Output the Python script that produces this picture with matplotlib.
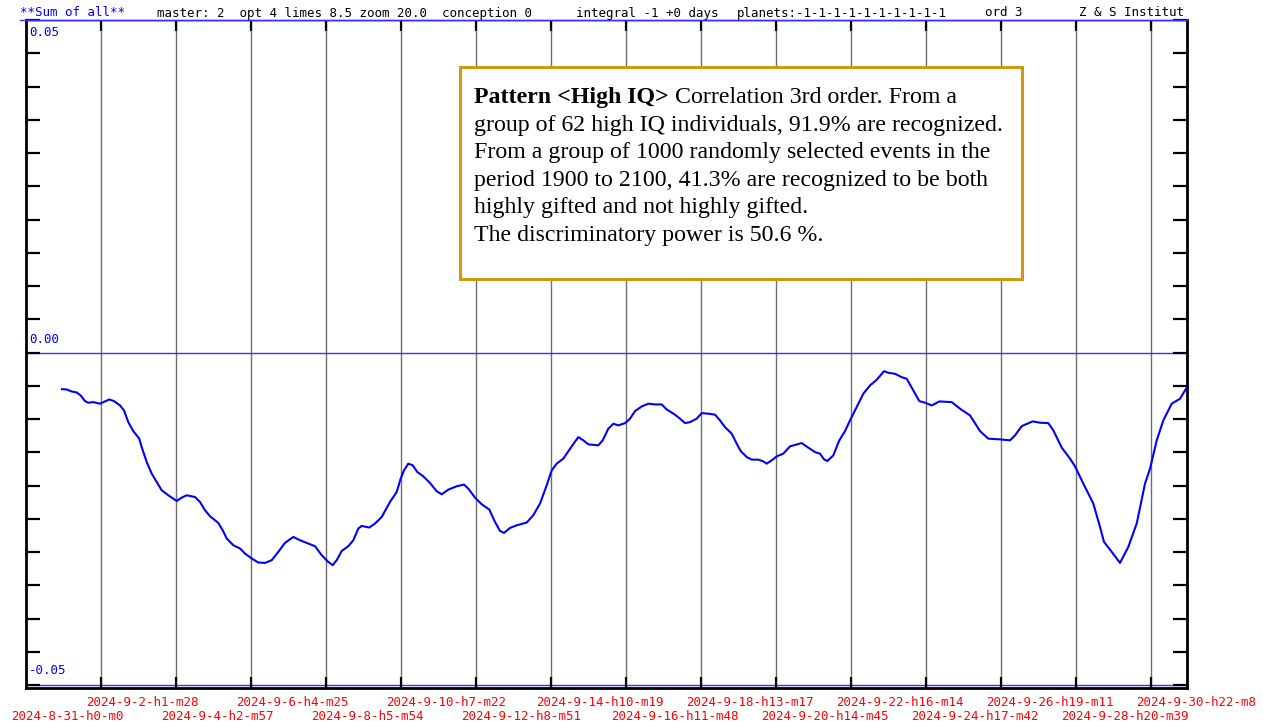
import matplotlib
matplotlib.use('Agg')
import matplotlib.pyplot as plt
from matplotlib.patches import Rectangle
from matplotlib.transforms import blended_transform_factory

W, H = 1263, 722

# x = days since 2024-8-31 h0 m0, y = sum of all
days = [0.990, 1.119, 1.256, 1.394, 1.504, 1.622, 1.712, 1.850, 2.034, 2.171,
        2.290, 2.419, 2.584, 2.694, 2.812, 2.949, 3.114, 3.180, 3.318, 3.455,
        3.593, 3.730, 3.911, 4.142, 4.280, 4.417, 4.645, 4.783, 4.920, 5.058,
        5.286, 5.407, 5.517, 5.698, 5.882, 6.020, 6.204, 6.385, 6.569, 6.754,
        6.935, 7.119, 7.347, 7.531, 7.716, 7.944, 8.128, 8.309, 8.430, 8.540,
        8.678, 8.859, 8.997, 9.134, 9.227, 9.436, 9.593, 9.777, 10.005, 10.189,
        10.299, 10.390, 10.508, 10.629, 10.756, 10.921, 11.105, 11.289, 11.426, 11.608,
        11.838, 12.039, 12.158, 12.342, 12.526, 12.735, 12.891, 13.029, 13.139, 13.304,
        13.488, 13.763, 13.944, 14.128, 14.312, 14.450, 14.588, 14.769, 15.000, 15.181,
        15.319, 15.456, 15.731, 15.852, 16.006, 16.143, 16.281, 16.465, 16.602, 16.740,
        16.924, 17.105, 17.289, 17.474, 17.611, 17.839, 17.976, 18.114, 18.251, 18.435,
        18.573, 18.755, 18.939, 19.076, 19.213, 19.398, 19.535, 19.645, 19.810, 19.948,
        20.129, 20.266, 20.359, 20.497, 20.635, 20.816, 21.000, 21.322, 21.503, 21.687,
        21.825, 21.935, 22.026, 22.190, 22.355, 22.512, 22.649, 22.833, 23.015, 23.199,
        23.383, 23.584, 23.702, 23.886, 24.070, 24.208, 24.390, 24.555, 24.711, 24.896,
        25.104, 25.445, 25.673, 25.948, 26.223, 26.451, 26.772, 27.047, 27.185, 27.369,
        27.671, 27.872, 28.100, 28.238, 28.469, 28.696, 28.834, 29.062, 29.337, 29.521,
        29.631, 29.843, 30.071, 30.299, 30.530, 30.758, 30.896, 31.080, 31.261, 31.492,
        31.720, 31.885]
vals = [-0.00551, -0.00556, -0.00586, -0.00601, -0.00646, -0.00731, -0.00755, -0.00746, -0.00770, -0.00736,
        -0.00706, -0.00731, -0.00796, -0.00871, -0.01047, -0.01182, -0.01296, -0.01422, -0.01647, -0.01821,
        -0.01947, -0.02072, -0.02147, -0.02233, -0.02182, -0.02147, -0.02173, -0.02248, -0.02372, -0.02462,
        -0.02563, -0.02673, -0.02797, -0.02898, -0.02947, -0.03023, -0.03098, -0.03158, -0.03164, -0.03123,
        -0.02998, -0.02863, -0.02773, -0.02823, -0.02863, -0.02913, -0.03048, -0.03149, -0.03198, -0.03123,
        -0.02984, -0.02913, -0.02823, -0.02647, -0.02608, -0.02632, -0.02572, -0.02473, -0.02248, -0.02098,
        -0.01896, -0.01772, -0.01671, -0.01697, -0.01797, -0.01862, -0.01962, -0.02087, -0.02132, -0.02062,
        -0.02012, -0.01986, -0.02047, -0.02182, -0.02282, -0.02362, -0.02548, -0.02683, -0.02713, -0.02638,
        -0.02598, -0.02557, -0.02447, -0.02272, -0.01997, -0.01772, -0.01671, -0.01596, -0.01411, -0.01272,
        -0.01321, -0.01381, -0.01396, -0.01321, -0.01146, -0.01071, -0.01096, -0.01062, -0.00995, -0.00881,
        -0.00811, -0.00770, -0.00781, -0.00781, -0.00856, -0.00935, -0.00995, -0.01062, -0.01047, -0.00995,
        -0.00911, -0.00920, -0.00935, -0.01021, -0.01122, -0.01221, -0.01371, -0.01482, -0.01572, -0.01611,
        -0.01611, -0.01637, -0.01671, -0.01622, -0.01562, -0.01521, -0.01411, -0.01362, -0.01431, -0.01497,
        -0.01521, -0.01607, -0.01632, -0.01547, -0.01321, -0.01182, -0.01021, -0.00821, -0.00620, -0.00495,
        -0.00410, -0.00281, -0.00305, -0.00320, -0.00371, -0.00395, -0.00571, -0.00731, -0.00755, -0.00796,
        -0.00736, -0.00746, -0.00845, -0.00946, -0.01182, -0.01296, -0.01306, -0.01321, -0.01246, -0.01107,
        -0.01036, -0.01056, -0.01062, -0.01171, -0.01431, -0.01596, -0.01712, -0.01971, -0.02272, -0.02623,
        -0.02848, -0.02998, -0.03164, -0.02923, -0.02572, -0.01971, -0.01746, -0.01321, -0.01021, -0.00770,
        -0.00695, -0.00545]

tick_labels = ["2024-8-31-h0-m0", "2024-9-2-h1-m28", "2024-9-4-h2-m57", "2024-9-6-h4-m25",
               "2024-9-8-h5-m54", "2024-9-10-h7-m22", "2024-9-12-h8-m51", "2024-9-14-h10-m19",
               "2024-9-16-h11-m48", "2024-9-18-h13-m17", "2024-9-20-h14-m45", "2024-9-22-h16-m14",
               "2024-9-24-h17-m42", "2024-9-26-h19-m11", "2024-9-28-h20-m39", "2024-9-30-h22-m8"]
step = 742.133 / 15 / 24   # days between labels
y_marks = [0.05, 0.00, -0.05]
y_mark_text = ["0.05", "0.00", "-0.05"]

header = [(20, "**Sum of all**", "#0000ff"),
          (157, "master: 2  opt 4 limes 8.5 zoom 20.0  conception 0", "black"),
          (576, "integral -1 +0 days", "black"),
          (737, "planets:-1-1-1-1-1-1-1-1-1-1", "black"),
          (985, "ord 3", "black"),
          (1079, "Z & S Institut", "black")]

box_lines = ["group of 62 high IQ individuals, 91.9% are recognized.",
             "From a group of 1000 randomly selected events in the",
             "period 1900 to 2100, 41.3% are recognized to be both",
             "highly gifted and not highly gifted.",
             "The discriminatory power is 50.6 %."]

mono = 'DejaVu Sans Mono'
serif = 'Liberation Serif'

fig = plt.figure(figsize=(W / 100, H / 100), dpi=100)
ax = fig.add_axes([26 / W, 1 - 688 / H, (1187 - 26) / W, (688 - 20) / H])
ax.set_xlim(0, 31.912)
ax.set_ylim(-0.05045, 0.04985)

# vertical grid at label steps
xt = [i * step for i in range(1, 16)]
for x in xt:
    ax.axvline(x, color='#6e6e6e', lw=1.0, zorder=1)
ax.set_xticks(xt)
ax.set_xticklabels([])
ax.tick_params(axis='x', direction='in', length=8, width=1.6, top=True, bottom=True, color='black')

ax.set_yticks([i * 0.005 for i in range(-10, 11)])
ax.set_yticklabels([])
ax.tick_params(axis='y', direction='in', length=10, width=1.6, left=True, right=True, color='black')

for v in y_marks:
    ax.axhline(v, color='#3333ff', lw=1.0, zorder=1)

ax.plot(days, vals, color='#0000ff', lw=1.5, zorder=3)

for side in ['left', 'right', 'bottom']:
    ax.spines[side].set_linewidth(2)
    ax.spines[side].set_color('black')
ax.spines['top'].set_color('#3333ff')
ax.spines['top'].set_linewidth(1)

# y value labels inside plot
for v, t, py in zip(y_marks, y_mark_text, [32, 339, 671]):
    fig.text(29 / W, 1 - py / H, t, color='#0000ff', fontsize=9, family=mono,
             ha='left', va='center')

# header
fig.add_artist(plt.Line2D([20 / W, 1187 / W], [1 - 20 / H, 1 - 20 / H], color='#3333ff', lw=1))
for px, t, c in header:
    fig.text(px / W, 1 - 13 / H, t, color=c, fontsize=9, family=mono, ha='left', va='center')

# date labels under the axis, alternating rows
tr = blended_transform_factory(ax.transData, fig.transFigure)
for i, lab in enumerate(tick_labels):
    py = 702 if i % 2 else 716
    fig.text(i * step - 0.40, 1 - py / H, lab, transform=tr, color='#ff0000',
             fontsize=9, family=mono, ha='left', va='center')

# annotation box
fig.add_artist(Rectangle((460 / W, 1 - 279 / H), (1022 - 460) / W, (279 - 67) / H,
                         transform=fig.transFigure, facecolor='white',
                         edgecolor='#d09a0e', lw=2.2, zorder=5))
bx = 474 / W
base = 103
fs = 17.2
t1 = fig.text(bx, 1 - base / H, "Pattern <High IQ>", fontsize=fs, family=serif,
              weight='bold', ha='left', va='baseline', zorder=6)
fig.canvas.draw()
bb = t1.get_window_extent()
fig.text(bb.x1 / W, 1 - base / H, " Correlation 3rd order. From a", fontsize=fs,
         family=serif, ha='left', va='baseline', zorder=6)
for k, line in enumerate(box_lines):
    fig.text(bx, 1 - (base + 27.6 * (k + 1)) / H, line, fontsize=fs, family=serif,
             ha='left', va='baseline', zorder=6)

fig.savefig('out.png', dpi=100)
